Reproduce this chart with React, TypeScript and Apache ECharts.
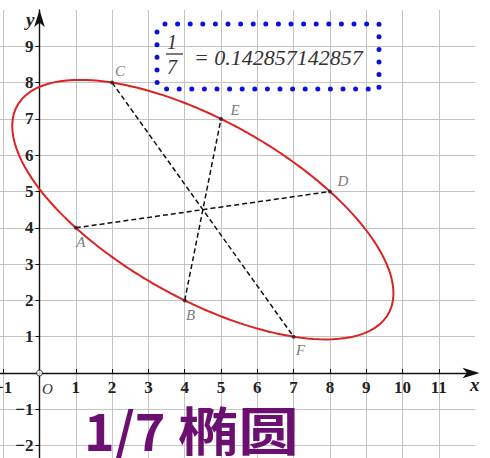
import { useEffect, useRef } from "react";
import * as echarts from "echarts";

// six points whose coordinates walk through the repeating digits of 1/7
const POINT_NAMES = ["A", "B", "C", "D", "E", "F"];
const POINT_X = [1, 4, 2, 8, 5, 7];
const POINT_Y = [4, 2, 8, 5, 7, 1];
// dashed chords (diameters) between opposite points
const CHORDS = [
  ["A", "D"],
  ["C", "F"],
  ["B", "E"],
];
const DECIMAL_TEXT = "= 0.142857142857";
const TITLE_NUM = "1/7";
const TITLE_WORD = "椭圆";

const X_MIN = -2;
const X_MAX = 12;
const X_LABEL_RANGE = [-1, 11];
const Y_MIN = -3;
const Y_MAX = 10;
const Y_LABEL_RANGE = [-2, 9];

// label nudges in pixels, per point
const LABEL_OFFSETS: Record<string, [number, number]> = {
  A: [5, 14],
  B: [6, 15],
  C: [8, -12],
  D: [13, -11],
  E: [14, -9],
  F: [7, 13],
};

const UNIT = 36.3;
const ORIGIN_PX = [39.5, 373];

const SERIF = "'Liberation Serif', 'Times New Roman', serif";
const GRID_COLOR = "#c4c4c4";
const AXIS_COLOR = "#111";

function pointOf(name: string): [number, number] {
  const i = POINT_NAMES.indexOf(name);
  return [POINT_X[i], POINT_Y[i]];
}

// fit u^2*a + uv*b + v^2*c = 1 about the common midpoint of the chords
function fitEllipse() {
  const n = POINT_X.length;
  const cx = POINT_X.reduce((s, v) => s + v, 0) / n;
  const cy = POINT_Y.reduce((s, v) => s + v, 0) / n;
  const rows = [0, 1, 2].map((i) => {
    const u = POINT_X[i] - cx;
    const v = POINT_Y[i] - cy;
    return [u * u, u * v, v * v];
  });
  const det = (m: number[][]) =>
    m[0][0] * (m[1][1] * m[2][2] - m[1][2] * m[2][1]) -
    m[0][1] * (m[1][0] * m[2][2] - m[1][2] * m[2][0]) +
    m[0][2] * (m[1][0] * m[2][1] - m[1][1] * m[2][0]);
  const d = det(rows);
  const coef = [0, 1, 2].map((col) =>
    det(rows.map((r) => r.map((v, j) => (j === col ? 1 : v)))) / d,
  );
  return { cx, cy, a: coef[0], b: coef[1], c: coef[2] };
}

function tickLabel(value: number, range: number[]) {
  if (value === 0 || value < range[0] || value > range[1]) {
    return "";
  }
  if (value < 0) {
    return `\u2212${Math.abs(value)}`;
  }
  return `${value}`;
}

export default function App() {
  const chartRef = useRef<HTMLDivElement>(null);

  useEffect(() => {
    if (!chartRef.current) {
      return;
    }
    const chart = echarts.init(chartRef.current, null, { renderer: "svg" });
    const ellipse = fitEllipse();

    const gridLeft = ORIGIN_PX[0] + X_MIN * UNIT;
    const gridTop = ORIGIN_PX[1] - Y_MAX * UNIT;
    const gridWidth = (X_MAX - X_MIN) * UNIT;
    const gridHeight = (Y_MAX - Y_MIN) * UNIT;
    // move the axes from the grid edges onto the origin
    const xAxisOffset = -(gridTop + gridHeight - ORIGIN_PX[1]);
    const yAxisOffset = -(ORIGIN_PX[0] - gridLeft);

    chart.setOption({
      animation: false,
      backgroundColor: "#fff",
      grid: {
        left: gridLeft,
        top: gridTop,
        width: gridWidth,
        height: gridHeight,
        containLabel: false,
        outerBoundsMode: "none",
      },
      xAxis: {
        type: "value",
        position: "bottom",
        offset: xAxisOffset,
        min: X_MIN,
        max: X_MAX,
        interval: 1,
        name: "x",
        nameLocation: "end",
        nameGap: -5,
        nameMoveOverlap: false,
        nameTextStyle: {
          fontFamily: SERIF,
          fontStyle: "italic",
          fontWeight: "bold",
          fontSize: 19,
          color: "#222",
          align: "left",
          verticalAlign: "top",
          padding: [2, 0, 0, 0],
        },
        axisLine: {
          onZero: false,
          symbol: ["none", "arrow"],
          symbolSize: [8, 17],
          symbolOffset: [0, 4.5],
          lineStyle: { color: AXIS_COLOR, width: 1.4 },
        },
        axisTick: {
          inside: true,
          length: 4,
          lineStyle: { color: AXIS_COLOR, width: 1 },
        },
        axisLabel: {
          margin: 6,
          showMaxLabel: false,
          fontFamily: SERIF,
          fontWeight: "bold",
          fontSize: 17,
          color: "#222",
          formatter: (value: number) =>
            value === 0 ? "{o|O}" : tickLabel(value, X_LABEL_RANGE),
          rich: {
            o: {
              fontFamily: SERIF,
              fontStyle: "italic",
              fontWeight: "normal",
              fontSize: 15,
              color: "#333",
              padding: [2, 0, 0, 16],
            },
          },
        },
        splitLine: {
          show: true,
          showMaxLine: false,
          lineStyle: { color: GRID_COLOR, width: 1 },
        },
      },
      yAxis: {
        type: "value",
        position: "left",
        offset: yAxisOffset,
        min: Y_MIN,
        max: Y_MAX,
        interval: 1,
        name: "y",
        nameLocation: "end",
        nameGap: -9,
        nameMoveOverlap: false,
        nameTextStyle: {
          fontFamily: SERIF,
          fontStyle: "italic",
          fontWeight: "bold",
          fontSize: 19,
          color: "#222",
          align: "right",
          verticalAlign: "middle",
          padding: [0, 5, 0, 0],
        },
        axisLine: {
          onZero: false,
          symbol: ["none", "arrow"],
          symbolSize: [8, 17],
          symbolOffset: [0, 0],
          lineStyle: { color: AXIS_COLOR, width: 1.4 },
        },
        axisTick: {
          length: 4,
          lineStyle: { color: AXIS_COLOR, width: 1 },
        },
        axisLabel: {
          margin: 6,
          showMaxLabel: false,
          fontFamily: SERIF,
          fontWeight: "bold",
          fontSize: 17,
          color: "#222",
          formatter: (value: number) => tickLabel(value, Y_LABEL_RANGE),
        },
        splitLine: {
          show: true,
          showMaxLine: false,
          lineStyle: { color: GRID_COLOR, width: 1 },
        },
      },
      series: [
        ...CHORDS.map(([p, q]) => ({
          type: "line",
          data: [pointOf(p), pointOf(q)],
          symbol: "none",
          silent: true,
          z: 3,
          lineStyle: { color: AXIS_COLOR, width: 1.5, type: [5, 3] },
        })),
        {
          type: "custom",
          data: [[ellipse.cx, ellipse.cy]],
          silent: true,
          clip: false,
          z: 4,
          renderItem: (_params: unknown, api: any) => {
            const pts: number[][] = [];
            const steps = 240;
            for (let k = 0; k < steps; k++) {
              const t = (k / steps) * Math.PI * 2;
              const cs = Math.cos(t);
              const sn = Math.sin(t);
              const r =
                1 /
                Math.sqrt(
                  ellipse.a * cs * cs + ellipse.b * cs * sn + ellipse.c * sn * sn,
                );
              pts.push(api.coord([ellipse.cx + r * cs, ellipse.cy + r * sn]));
            }
            return {
              type: "polygon",
              shape: { points: pts },
              style: { fill: "none", stroke: "#dd2222", lineWidth: 2 },
            };
          },
        },
        {
          type: "scatter",
          z: 5,
          symbolSize: 4,
          itemStyle: { color: "#222" },
          label: {
            show: true,
            position: "inside",
            formatter: "{b}",
            fontFamily: SERIF,
            fontStyle: "italic",
            fontSize: 15,
            color: "#555",
          },
          data: POINT_NAMES.map((name, i) => ({
            name,
            value: [POINT_X[i], POINT_Y[i]],
            label: { offset: LABEL_OFFSETS[name] },
          })),
        },
        {
          type: "scatter",
          z: 5,
          symbol: "circle",
          symbolSize: 6,
          itemStyle: { color: "#fff", borderColor: AXIS_COLOR, borderWidth: 1 },
          data: [[0, 0]],
        },
      ],
      graphic: [
        {
          type: "rect",
          shape: { x: 157, y: 24, width: 222, height: 65, r: [8, 0, 0, 8] },
          style: {
            fill: "none",
            stroke: "#0a10e0",
            lineWidth: 5,
            lineDash: [0, 12.6],
            lineCap: "round",
          },
          z: 10,
        },
        {
          type: "text",
          x: 172,
          y: 42,
          style: {
            text: "1",
            font: `italic 20px ${SERIF}`,
            fill: "#333",
            align: "center",
            verticalAlign: "middle",
          },
          z: 10,
        },
        {
          type: "line",
          shape: { x1: 166, y1: 54, x2: 183, y2: 54 },
          style: { stroke: "#333", lineWidth: 1.3 },
          z: 10,
        },
        {
          type: "text",
          x: 172,
          y: 67,
          style: {
            text: "7",
            font: `italic 20px ${SERIF}`,
            fill: "#333",
            align: "center",
            verticalAlign: "middle",
          },
          z: 10,
        },
        {
          type: "text",
          x: 194,
          y: 57,
          style: {
            text: DECIMAL_TEXT,
            font: `italic 22px ${SERIF}`,
            fill: "#333",
            align: "left",
            verticalAlign: "middle",
          },
          z: 10,
        },
        {
          type: "text",
          x: 84,
          y: 428,
          style: {
            text: TITLE_NUM,
            font: "bold 52px 'Noto Sans CJK SC', sans-serif",
            fill: "#6b0f70",
            align: "left",
            verticalAlign: "middle",
          },
          z: 10,
        },
        {
          type: "text",
          x: 178,
          y: 428,
          scaleX: 1.16,
          style: {
            text: TITLE_WORD,
            font: "bold 52px 'Noto Sans CJK SC', sans-serif",
            fill: "#6b0f70",
            align: "left",
            verticalAlign: "middle",
          },
          z: 10,
        },
      ],
    });

    return () => {
      chart.dispose();
    };
  }, []);

  return (
    <div
      ref={chartRef}
      style={{
        position: "absolute",
        left: 0,
        top: 0,
        width: 490,
        height: 458,
        background: "#fff",
      }}
    />
  );
}
